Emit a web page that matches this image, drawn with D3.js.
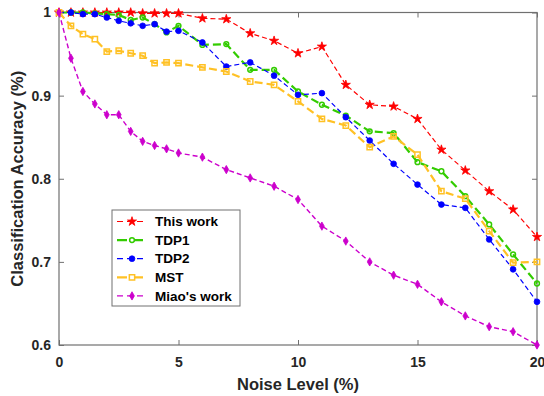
<!DOCTYPE html>
<html>
<head>
<meta charset="utf-8">
<script src="https://cdn.jsdelivr.net/npm/d3@7"></script>
<style>
  body { margin: 0; background: #fff; }
  text { font-family: Arial, "Liberation Sans", sans-serif; font-weight: bold; }
</style>
</head>
<body>
<div id="chart"></div>
<script>
const noiseLevels = [0, 0.5, 1, 1.5, 2, 2.5, 3, 3.5, 4, 4.5, 5, 6, 7, 8, 9, 10, 11, 12, 13, 14, 15, 16, 17, 18, 19, 20]

const thisWork = [1.0, 1.0, 1.0, 1.0, 1.0, 1.0, 1.0, 0.999, 0.999, 0.999, 0.999, 0.993, 0.992, 0.975, 0.966, 0.951, 0.959, 0.913, 0.889, 0.887, 0.872, 0.835, 0.81, 0.785, 0.763, 0.73]
const tdp1 = [1.0, 1.0, 1.0, 0.999, 0.998, 0.997, 0.991, 0.994, 0.986, 0.976, 0.984, 0.961, 0.962, 0.931, 0.931, 0.905, 0.889, 0.876, 0.857, 0.855, 0.82, 0.809, 0.779, 0.745, 0.709, 0.674]
const tdp2 = [1.0, 1.0, 0.998, 0.998, 0.994, 0.99, 0.987, 0.984, 0.986, 0.977, 0.978, 0.964, 0.935, 0.94, 0.924, 0.901, 0.903, 0.874, 0.846, 0.818, 0.793, 0.769, 0.765, 0.727, 0.691, 0.652]
const mst = [1.0, 0.984, 0.974, 0.968, 0.953, 0.954, 0.951, 0.948, 0.939, 0.94, 0.939, 0.934, 0.929, 0.917, 0.913, 0.893, 0.872, 0.864, 0.838, 0.851, 0.829, 0.785, 0.776, 0.737, 0.699, 0.7]
const miao = [1.0, 0.945, 0.905, 0.89, 0.877, 0.877, 0.857, 0.845, 0.84, 0.836, 0.831, 0.826, 0.811, 0.801, 0.791, 0.775, 0.743, 0.725, 0.7, 0.684, 0.673, 0.652, 0.635, 0.622, 0.616, 0.6]

const seriesNames = ["This work", "TDP1", "TDP2", "MST", "Miao's work"]
const xTicks = [0, 5, 10, 15, 20]
const yTicks = [0.6, 0.7, 0.8, 0.9, 1]

const series = [
  { name: seriesNames[0], values: thisWork, color: "#FF0000", width: 1.2, dash: "5,3", symbol: d3.symbolStar, size: 26, filled: true },
  { name: seriesNames[1], values: tdp1, color: "#33CC00", width: 2.2, dash: "8,4", symbol: d3.symbolCircle, size: 18, filled: false },
  { name: seriesNames[2], values: tdp2, color: "#0000FF", width: 1.2, dash: "5,3", symbol: d3.symbolCircle, size: 26, filled: true },
  { name: seriesNames[3], values: mst, color: "#FFC125", width: 2.2, dash: "8,4", symbol: d3.symbolSquare, size: 28, filled: false },
  { name: seriesNames[4], values: miao, color: "#CC00CC", width: 1.4, dash: "5,3", symbol: d3.symbolDiamond, size: 20, filled: true }
]

const axisColor = "#707070"

const dimensions = {
  width: 544,
  height: 396,
  margin: { top: 12.5, right: 7, bottom: 51, left: 59 }
}
dimensions.boundedWidth = dimensions.width - dimensions.margin.left - dimensions.margin.right
dimensions.boundedHeight = dimensions.height - dimensions.margin.top - dimensions.margin.bottom

const svg = d3.select("#chart")
  .append("svg")
    .attr("width", dimensions.width)
    .attr("height", dimensions.height)

const bounds = svg.append("g")
  .attr("transform", `translate(${dimensions.margin.left},${dimensions.margin.top})`)

const xScale = d3.scaleLinear()
  .domain([0, 20])
  .range([0, dimensions.boundedWidth])

const yScale = d3.scaleLinear()
  .domain([0.6, 1])
  .range([dimensions.boundedHeight, 0])

// axes: ticks pointing inward, on all four sides
const styleAxis = g => {
  g.select(".domain").remove()
  g.selectAll("line").attr("stroke", axisColor)
  g.selectAll("text")
    .attr("fill", "#262626")
    .style("font-size", "14px")
}

bounds.append("g")
  .attr("transform", `translate(0,${dimensions.boundedHeight})`)
  .call(d3.axisBottom(xScale).tickValues(xTicks).tickSize(-5).tickPadding(12).tickFormat(d3.format("d")))
  .call(styleAxis)

bounds.append("g")
  .call(d3.axisTop(xScale).tickValues(xTicks).tickSize(-5).tickFormat(""))
  .call(styleAxis)

bounds.append("g")
  .call(d3.axisLeft(yScale).tickValues(yTicks).tickSize(-5).tickPadding(8).tickFormat(d => d === 1 ? "1" : d3.format(".1f")(d)))
  .call(styleAxis)

bounds.append("g")
  .attr("transform", `translate(${dimensions.boundedWidth},0)`)
  .call(d3.axisRight(yScale).tickValues(yTicks).tickSize(-5).tickFormat(""))
  .call(styleAxis)

bounds.append("rect")
  .attr("width", dimensions.boundedWidth)
  .attr("height", dimensions.boundedHeight)
  .attr("fill", "none")
  .attr("stroke", axisColor)
  .attr("stroke-width", 1.2)

// lines and markers
const lineGenerator = d3.line()
  .x((d, i) => xScale(noiseLevels[i]))
  .y(d => yScale(d))

series.forEach(s => {
  bounds.append("path")
    .attr("d", lineGenerator(s.values))
    .attr("fill", "none")
    .attr("stroke", s.color)
    .attr("stroke-width", s.width)
    .attr("stroke-dasharray", s.dash)

  bounds.append("g")
    .selectAll("path")
    .data(s.values)
    .join("path")
      .attr("transform", (d, i) => `translate(${xScale(noiseLevels[i])},${yScale(d)})`)
      .attr("d", d3.symbol(s.symbol, s.size))
      .attr("fill", s.filled ? s.color : "none")
      .attr("stroke", s.color)
      .attr("stroke-width", s.filled ? 0.8 : 1.5)
})

// legend
const legend = svg.append("g")
  .attr("transform", "translate(112,210)")

legend.append("rect")
  .attr("width", 128)
  .attr("height", 96)
  .attr("fill", "#fff")
  .attr("stroke", axisColor)
  .attr("stroke-width", 1)

series.forEach((s, i) => {
  const y = 11.5 + i * 18.6
  legend.append("line")
    .attr("x1", 5).attr("x2", 35)
    .attr("y1", y).attr("y2", y)
    .attr("stroke", s.color)
    .attr("stroke-width", s.width)
    .attr("stroke-dasharray", s.dash === "5,3" ? "6,4" : "10,6")
  legend.append("path")
    .attr("transform", `translate(20,${y})`)
    .attr("d", d3.symbol(s.symbol, s.size))
    .attr("fill", s.filled ? s.color : "#fff")
    .attr("stroke", s.color)
    .attr("stroke-width", s.filled ? 0.8 : 1.5)
  legend.append("text")
    .attr("x", 43)
    .attr("y", y)
    .attr("dy", "0.35em")
    .attr("fill", "#000")
    .style("font-size", "13.5px")
    .text(s.name)
})

// axis titles
svg.append("text")
  .attr("x", dimensions.margin.left + dimensions.boundedWidth / 2)
  .attr("y", 390)
  .attr("text-anchor", "middle")
  .attr("fill", "#262626")
  .style("font-size", "16.5px")
  .text("Noise Level (%)")

svg.append("text")
  .attr("transform", `translate(23,${dimensions.margin.top + dimensions.boundedHeight / 2}) rotate(-90)`)
  .attr("text-anchor", "middle")
  .attr("fill", "#262626")
  .style("font-size", "16.5px")
  .text("Classification Accuracy (%)")
</script>
</body>
</html>
